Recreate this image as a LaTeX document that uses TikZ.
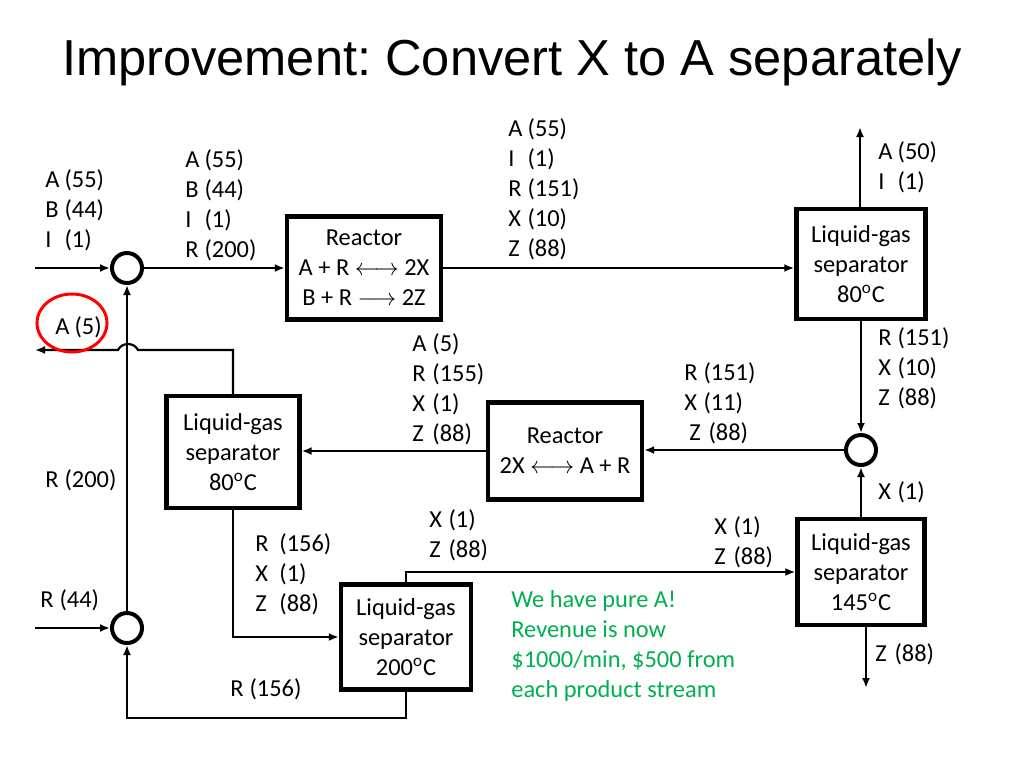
\documentclass[tikz,border=0pt]{standalone}
\usepackage{fontspec}
\setmainfont{Carlito}
\newfontfamily\titlefont{Liberation Sans}
\usetikzlibrary{arrows.meta}
\definecolor{slidegreen}{RGB}{0,176,80}
\newcommand{\comp}[3][9.6pt]{\makebox[#1][l]{#2}(#3)}
\frenchspacing

\begin{document}
\begin{tikzpicture}[x=0.5pt,y=-0.5pt,font=\fontsize{12.2}{15}\selectfont,
  unit/.style={draw,line width=2.2pt,align=center,inner sep=0pt},
  mixer/.style={draw,circle,line width=2pt,minimum size=15pt,inner sep=0pt},
  stream/.style={align=left,anchor=north west,inner sep=0pt},
  flow/.style={line width=1.1pt,-{Latex[length=5pt,width=4pt]}}]

\useasboundingbox (0,0) rectangle (1024,768);

\node[font=\titlefont\fontsize{25.3}{30}\selectfont,anchor=base] (title) at (512,75) {Improvement: Convert X to A separately};

% units
\node[unit,minimum width=77pt,minimum height=51.5pt] (reactorA) at (364,268) {Reactor\\A + R $\longleftrightarrow$ 2X\\B + R $\longrightarrow$ 2Z};
\node[unit,minimum width=64.5pt,minimum height=55pt] (sepTop) at (861,264) {Liquid-gas\\separator\\80\textsuperscript{o}C};
\node[unit,minimum width=66.5pt,minimum height=56pt] (sepLeft) at (233,452) {Liquid-gas\\separator\\80\textsuperscript{o}C};
\node[unit,minimum width=77pt,minimum height=48.5pt] (reactorX) at (565,451) {Reactor\\2X $\longleftrightarrow$ A + R};
\node[unit,minimum width=63.5pt,minimum height=53pt] (sepHot) at (861,572) {Liquid-gas\\separator\\145\textsuperscript{o}C};
\node[unit,minimum width=65pt,minimum height=52.5pt] (sepR) at (406,637) {Liquid-gas\\separator\\200\textsuperscript{o}C};

% mixers
\node[mixer] (mixA) at (127,268) {};
\node[mixer] (mixR) at (127,628) {};
\node[mixer] (mixX) at (861,450) {};

\coordinate (feedA) at (35,268);
\coordinate (feedR) at (35,628);
\coordinate (outA) at (860,127);
\coordinate (outZ) at (866,688);
\coordinate (outA5) at (35,350);
\coordinate (hopR) at (138,350);
\coordinate (hopL) at (118,350);

\draw[flow] (feedA) -- (mixA);
\draw[flow] (mixA) -- (reactorA);
\draw[flow] (reactorA.east) -- (reactorA.east -| sepTop.west);
\draw[flow] (sepTop.north -| outA) -- (outA);
\draw[flow] (sepTop) -- (mixX);
\draw[flow] (sepHot) -- (mixX);
\draw[flow] (sepHot.south -| outZ) -- (outZ);
\draw[flow] (mixX.west) -- (mixX.west -| reactorX.east);
\draw[flow] (reactorX.west) -- (reactorX.west -| sepLeft.east);
\draw[flow] (sepLeft.south) |- (sepR.west);
\draw[flow] (sepR.north) |- (sepHot.west);
\draw[flow] (sepR.south) -- ++(0,26) -| (mixR.south);
\draw[flow] (feedR) -- (mixR);
\draw[flow] (mixR) -- (mixA);
\draw[flow] (sepLeft.north) |- (hopR) .. controls (134,342) and (122,342) .. (hopL) -- (outA5); % jump over recycle

% stream labels
\node[stream] (sFeedA) at (45,169) {\comp{A}{55}\\\comp{B}{44}\\\comp{I}{1}};
\node[stream] (sMixA) at (185,149) {\comp{A}{55}\\\comp{B}{44}\\\comp{I}{1}\\\comp{R}{200}};
\node[stream] (sReactA) at (508,118) {\comp{A}{55}\\\comp{I}{1}\\\comp{R}{151}\\\comp{X}{10}\\\comp{Z}{88}};
\node[stream] (sOutA) at (878,141) {\comp{A}{50}\\\comp{I}{1}};
\node[stream] (sSepTop) at (878,327) {\comp{R}{151}\\\comp{X}{10}\\\comp{Z}{88}};
\node[stream] (sReactX) at (412,333) {\comp[10pt]{A}{5}\\\comp[10pt]{R}{155}\\\comp[10pt]{X}{1}\\\comp[10pt]{Z}{88}};
\node[stream] (sMixX) at (684,362) {\comp{R}{151}\\\comp{X}{11}\\\hspace{2.5pt}\comp{Z}{88}};
\node[stream] (sHotTop) at (878,481) {\comp{X}{1}};
\node[stream] (sRec) at (45,469) {\comp{R}{200}};
\node[stream] (sSepR) at (429,509) {\comp{X}{1}\\\comp{Z}{88}};
\node[stream] (sSepHot) at (714,516) {\comp{X}{1}\\\comp{Z}{88}};
\node[stream] (sSepLeft) at (255,533) {\comp[12pt]{R}{156}\\\comp[12pt]{X}{1}\\\comp[12pt]{Z}{88}};
\node[stream] (sFeedR) at (40,589) {\comp{R}{44}};
\node[stream] (sRecR) at (230,678) {\comp{R}{156}};
\node[stream] (sOutZ) at (875,643) {\comp{Z}{88}};
\node[stream] (sOutA5) at (55,316) {\comp{A}{5}};
\draw[red,line width=1.5pt] (72,323) ellipse [x radius=17.5pt,y radius=14.5pt];

\node[stream,text=slidegreen] (note) at (511,590) {We have pure A!\\Revenue is now\\\$1000/min, \$500 from\\each product stream};

\end{tikzpicture}
\end{document}
